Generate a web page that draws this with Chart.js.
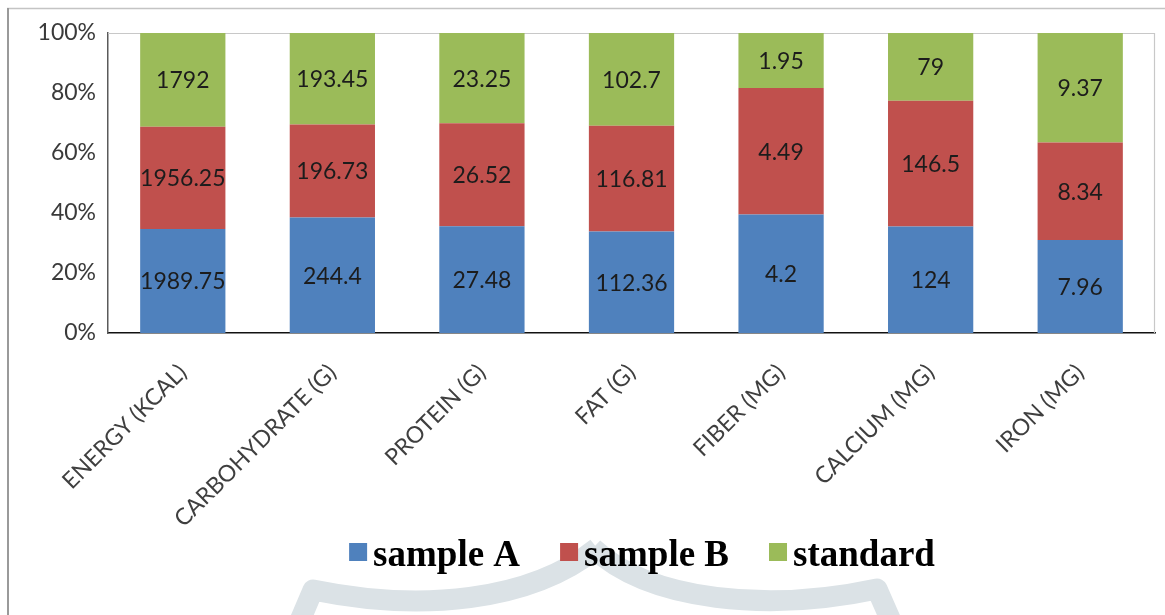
<!DOCTYPE html>
<html>
<head>
<meta charset="utf-8">
<script src="https://cdn.jsdelivr.net/npm/chart.js@4.4.1/dist/chart.umd.min.js"></script>
<style>
  html, body { margin: 0; padding: 0; background: #fff; overflow: hidden; }
  canvas { display: block; }
</style>
</head>
<body>
<canvas id="c" width="1165" height="615"></canvas>
<script>
// Nutrient categories and the three compared series
const categories = ['ENERGY (KCAL)', 'CARBOHYDRATE (G)', 'PROTEIN (G)', 'FAT (G)', 'FIBER (MG)', 'CALCIUM (MG)', 'IRON (MG)'];
const sampleA  = [1989.75, 244.4, 27.48, 112.36, 4.2, 124, 7.96];
const sampleB  = [1956.25, 196.73, 26.52, 116.81, 4.49, 146.5, 8.34];
const standard = [1792, 193.45, 23.25, 102.7, 1.95, 79, 9.37];
const seriesNames = ['sample A', 'sample B', 'standard'];
const yTicks = [0, 20, 40, 60, 80, 100];

const rawSeries = [sampleA, sampleB, standard];
const colors = ['#4f81bd', '#c0504d', '#9bbb59'];

// 100% stacking: each segment is its value's share of the category total
const totals = categories.map((_, i) => sampleA[i] + sampleB[i] + standard[i]);
const shares = rawSeries.map(s => s.map((v, i) => v / totals[i] * 100));

const PLOT = { left: 108, top: 33, right: 1155, bottom: 333 };

const framePlugin = {
  id: 'frame',
  beforeDraw(chart) {
    const ctx = chart.ctx;
    ctx.save();
    ctx.fillStyle = '#ffffff';
    ctx.fillRect(0, 0, chart.width, chart.height);
    // outer frame (top and left edges)
    ctx.strokeStyle = '#c4c4c4';
    ctx.lineWidth = 1.5;
    ctx.beginPath();
    ctx.moveTo(7, 8.5);
    ctx.lineTo(chart.width, 8.5);
    ctx.stroke();
    ctx.strokeStyle = '#9a9a9a';
    ctx.lineWidth = 2;
    ctx.beginPath();
    ctx.moveTo(8, 8);
    ctx.lineTo(8, chart.height);
    ctx.stroke();
    // faint seal arcs behind the legend
    ctx.strokeStyle = '#dbe2e6';
    ctx.lineWidth = 21;
    ctx.lineJoin = 'round';
    ctx.lineCap = 'butt';
    ctx.beginPath();
    ctx.moveTo(296, 630);
    ctx.lineTo(313, 590);
    ctx.bezierCurveTo(420, 612, 530, 602, 597, 548);
    ctx.stroke();
    ctx.beginPath();
    ctx.moveTo(593, 548);
    ctx.bezierCurveTo(650, 602, 770, 612, 877, 589);
    ctx.lineTo(895, 630);
    ctx.stroke();
    ctx.restore();
  },
  beforeDatasetsDraw(chart) {
    const ctx = chart.ctx;
    const a = chart.chartArea;
    ctx.save();
    ctx.strokeStyle = '#c8c8c8';
    ctx.lineWidth = 1.2;
    ctx.beginPath();
    ctx.moveTo(a.left, a.top + 0.5);
    ctx.lineTo(a.right - 0.5, a.top + 0.5);
    ctx.lineTo(a.right - 0.5, a.bottom);
    ctx.stroke();
    ctx.restore();
  }
};

const valueLabels = {
  id: 'valueLabels',
  afterDatasetsDraw(chart) {
    const ctx = chart.ctx;
    ctx.save();
    ctx.font = '23px Lato';
    ctx.fillStyle = '#1c1c1c';
    ctx.textAlign = 'center';
    ctx.textBaseline = 'middle';
    chart.data.datasets.forEach((ds, di) => {
      const meta = chart.getDatasetMeta(di);
      meta.data.forEach((bar, i) => {
        const y = (bar.y + bar.base) / 2;
        ctx.fillText(String(rawSeries[di][i]), bar.x, y + 1);
      });
    });
    ctx.restore();
  }
};

const bottomLegend = {
  id: 'bottomLegend',
  afterDraw(chart) {
    const ctx = chart.ctx;
    ctx.save();
    ctx.font = 'bold 37px "Liberation Serif"';
    const box = 18, gap = 6, space = 40;
    const items = chart.data.datasets.map(d => ({
      label: d.label, color: d.backgroundColor, w: ctx.measureText(d.label).width
    }));
    const total = items.reduce((s, it) => s + box + gap + it.w, 0) + space * (items.length - 1);
    let x = 642 - total / 2;
    ctx.textBaseline = 'alphabetic';
    ctx.textAlign = 'left';
    items.forEach(it => {
      ctx.fillStyle = it.color;
      ctx.fillRect(x, 543, box, box);
      ctx.fillStyle = '#000000';
      ctx.fillText(it.label, x + box + gap, 566);
      x += box + gap + it.w + space;
    });
    ctx.restore();
  }
};

new Chart(document.getElementById('c'), {
  type: 'bar',
  data: {
    labels: categories,
    datasets: seriesNames.map((name, k) => ({
      label: name,
      data: shares[k],
      backgroundColor: colors[k],
      borderWidth: 0,
      barPercentage: 0.57,
      categoryPercentage: 1.0
    }))
  },
  options: {
    responsive: false,
    animation: false,
    events: [],
    layout: { padding: { top: PLOT.top, right: 1165 - PLOT.right, left: 0, bottom: 0 } },
    plugins: {
      legend: { display: false },
      tooltip: { enabled: false },
      title: { display: false }
    },
    scales: {
      x: {
        stacked: true,
        grid: { display: false, drawTicks: false },
        border: { display: true, color: '#111111', width: 1.5 },
        ticks: {
          minRotation: 45,
          maxRotation: 45,
          padding: 26,
          color: '#3f3f3f',
          font: { family: 'Lato', size: 23 }
        },
        afterFit(scale) { scale.height = 615 - PLOT.bottom; }
      },
      y: {
        stacked: true,
        min: 0,
        max: 100,
        grid: { display: false, drawTicks: false },
        border: { display: true, color: '#5a5a5a', width: 1.5 },
        afterBuildTicks(scale) { scale.ticks = yTicks.map(v => ({ value: v })); },
        ticks: {
          padding: 12,
          color: '#3a3a3a',
          font: { family: 'Lato', size: 23 },
          callback: v => v + '%'
        },
        afterFit(scale) { scale.width = PLOT.left; }
      }
    }
  },
  plugins: [framePlugin, valueLabels, bottomLegend]
});
</script>
</body>
</html>
